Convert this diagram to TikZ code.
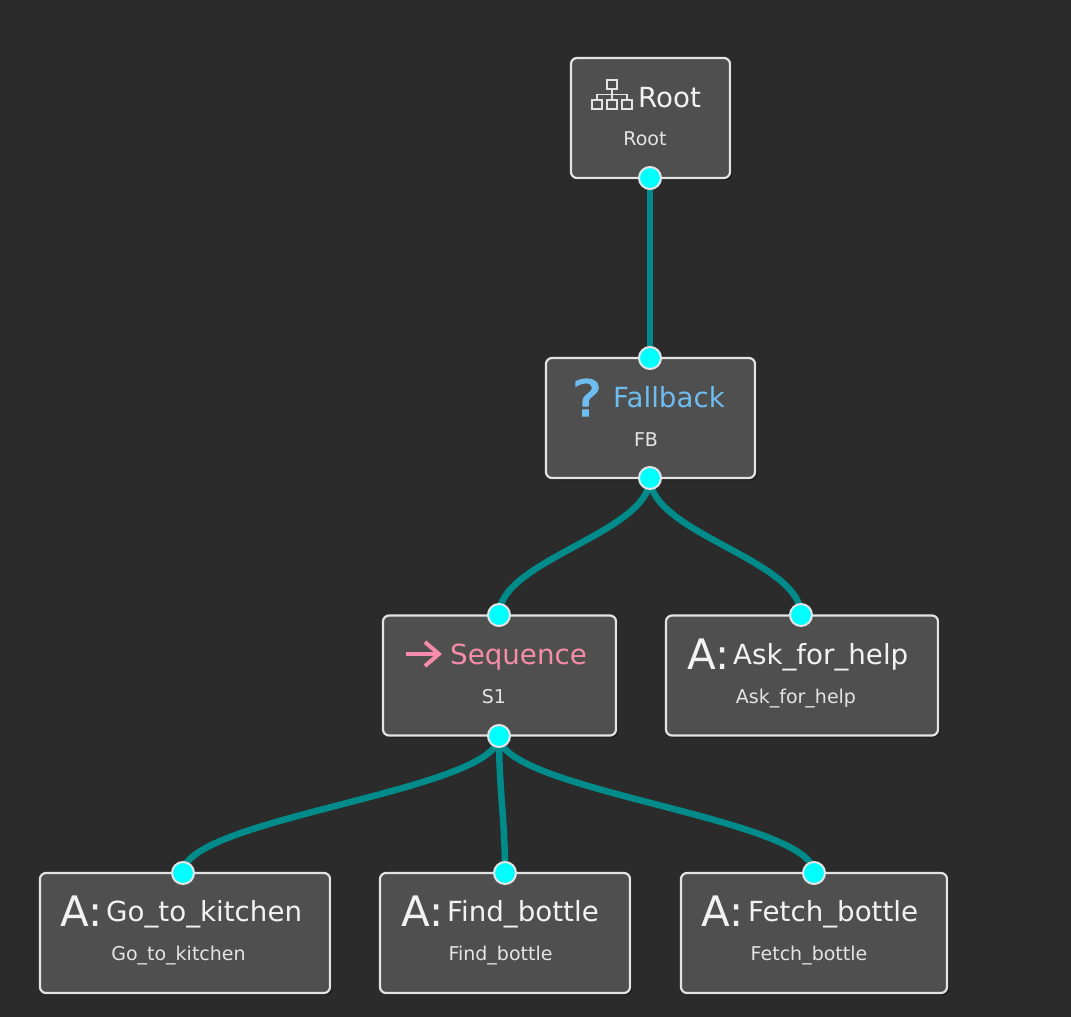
\documentclass[tikz,border=0pt]{standalone}
\usepackage{fontspec}
\setmainfont{DejaVu Sans}
\usetikzlibrary{arrows.meta, shadows}
\pgfdeclarelayer{portlayer}
\pgfsetlayers{main,portlayer}
\definecolor{bgdark}{HTML}{2B2B2B}
\definecolor{boxgray}{HTML}{4F4F4F}
\definecolor{edgeteal}{HTML}{008B8B}
\definecolor{portcyan}{HTML}{00FFFF}
\definecolor{rimwhite}{HTML}{E4E4E4}
\definecolor{titlewhite}{HTML}{F2F2F2}
\definecolor{fbblue}{HTML}{6FBDF0}
\definecolor{seqpink}{HTML}{F58CAB}
\tikzset{
  treebox/.style={draw=rimwhite, line width=2.2pt, fill=boxgray, rounded corners=6pt, inner sep=0pt, minimum height=120pt, drop shadow={shadow xshift=2pt, shadow yshift=-2pt, opacity=0.35, fill=black}},
  port/.style={circle, draw=rimwhite, line width=2pt, fill=portcyan, minimum size=22pt, inner sep=0pt},
  link/.style={draw=edgeteal, line width=6.5pt},
  bigtitle/.style={anchor=base west, inner sep=0pt, text=titlewhite, font=\fontsize{27.7}{30}\selectfont},
  subtitle/.style={anchor=base, inner sep=0pt, text=rimwhite, font=\fontsize{19}{22}\selectfont},
  actionmark/.style={anchor=base west, inner sep=0pt, text=titlewhite, font=\fontsize{42}{44}\selectfont},
  iconbit/.style={draw=rimwhite, line width=1.6pt}
}
\begin{document}
\begin{tikzpicture}[x=1pt, y=-1pt]
\fill[bgdark] (0,0) rectangle (1071,1017);
\useasboundingbox (0,0) rectangle (1071,1017);
% Boxes of the tree
\node[treebox, minimum width=159pt] (Root) at (650.5,118) {};
\node[treebox, minimum width=209pt] (FB) at (650.5,418) {};
\node[treebox, minimum width=233pt] (S1) at (499.5,675.5) {};
\node[treebox, minimum width=272pt] (Ask) at (802,675.5) {};
\node[treebox, minimum width=290pt] (Go) at (185,933) {};
\node[treebox, minimum width=250pt] (Find) at (505,933) {};
\node[treebox, minimum width=266pt] (Fetch) at (814,933) {};
% Ports, on their own layer above the edges
\begin{pgfonlayer}{portlayer}
\node[port] (RootOut) at (650,178) {};
\node[port] (FBIn) at (650,358) {};
\node[port] (FBOut) at (650,478) {};
\node[port] (S1In) at (499,615) {};
\node[port] (S1Out) at (499,736) {};
\node[port] (AskIn) at (801,615) {};
\node[port] (GoIn) at (183,873) {};
\node[port] (FindIn) at (505,873) {};
\node[port] (FetchIn) at (814,873) {};
\end{pgfonlayer}
% Edges
\draw[link] (RootOut.center) -- (FBIn.center);
\draw[link] (FBOut.center) .. controls +(0,55) and +(0,-55) .. (S1In.center);
\draw[link] (FBOut.center) .. controls +(0,55) and +(0,-55) .. (AskIn.center);
\draw[link] (S1Out.center) .. controls +(0,55) and +(0,-55) .. (GoIn.center);
\draw[link] (S1Out.center) .. controls +(0,55) and +(0,-55) .. (FindIn.center);
\draw[link] (S1Out.center) .. controls +(0,55) and +(0,-55) .. (FetchIn.center);
% Root
\draw[iconbit] (607,80) rectangle (617,89);
\draw[iconbit] (592,100) rectangle (602,109);
\draw[iconbit] (607,100) rectangle (617,109);
\draw[iconbit] (622,100) rectangle (632,109);
\draw[iconbit] (612,89) -- (612,100);
\draw[iconbit] (597,100) -- (597,94.5) -- (627,94.5) -- (627,100);
\node[bigtitle] (RootTitle) at (638,107) {Root};
\node[subtitle] (RootName) at (645,145) {Root};
% Fallback
\node[anchor=base west, inner sep=0pt, text=fbblue, font=\fontsize{50}{54}\selectfont\addfontfeatures{FakeBold=2}, xscale=1.15, transform shape] (FBMark) at (571.5,416) {?};
\node[bigtitle, text=fbblue] (FBTitle) at (613,407) {Fallback};
\node[subtitle] (FBName) at (646,446) {FB};
% Sequence
\coordinate (SeqTail) at (406,654);
\coordinate (SeqHead) at (442,654);
\draw[-{Straight Barb[length=14pt, width=24pt]}, draw=seqpink, line width=4pt] (SeqTail) -- (SeqHead);
\node[bigtitle, text=seqpink] (S1Title) at (450,664) {Sequence};
\node[subtitle] (S1Name) at (494,703) {S1};
% Actions
\node[actionmark] (AskMark) at (687,669) {A:};
\node[bigtitle] (AskTitle) at (733,664) {Ask\_for\_help};
\node[subtitle] (AskName) at (796,703) {Ask\_for\_help};
\node[actionmark] (GoMark) at (60,926) {A:};
\node[bigtitle] (GoTitle) at (106,921) {Go\_to\_kitchen};
\node[subtitle] (GoName) at (178.5,960) {Go\_to\_kitchen};
\node[actionmark] (FindMark) at (401,926) {A:};
\node[bigtitle] (FindTitle) at (447,921) {Find\_bottle};
\node[subtitle] (FindName) at (500.5,960) {Find\_bottle};
\node[actionmark] (FetchMark) at (701,926) {A:};
\node[bigtitle] (FetchTitle) at (748,921) {Fetch\_bottle};
\node[subtitle] (FetchName) at (809,960) {Fetch\_bottle};
\end{tikzpicture}
\end{document}
